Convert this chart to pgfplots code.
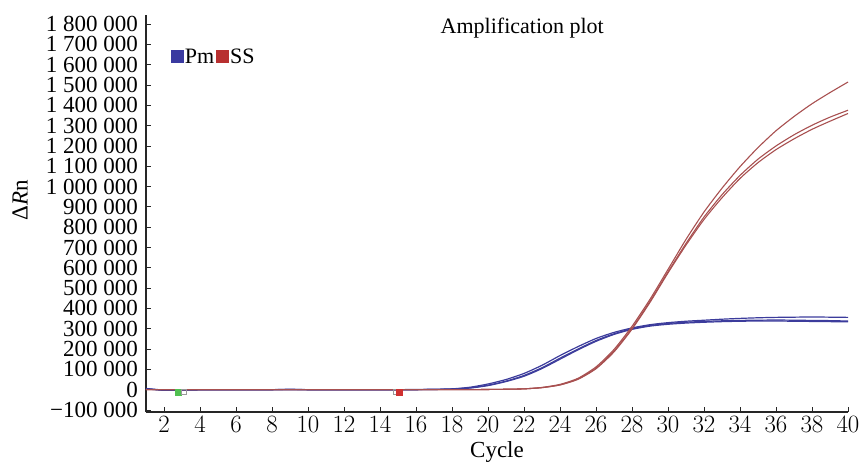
\documentclass[border=0pt]{standalone}
\usepackage{fontspec}
\setmainfont{Liberation Serif}
\usepackage{pgfplots}
\pgfplotsset{compat=1.18}
\definecolor{pmblue}{HTML}{3C3C9C}
\definecolor{ssred}{HTML}{A85050}
\definecolor{legblue}{HTML}{3A3AA0}
\definecolor{legred}{HTML}{B83030}
\definecolor{thgreen}{HTML}{50C050}
\definecolor{thred}{HTML}{D03030}
\begin{document}
\begin{tikzpicture}
\begin{axis}[
  name=ax,
  scale only axis, width=702pt, height=397pt,
  xmin=1, xmax=40, ymin=-110000, ymax=1845000,
  scaled y ticks=false,
  axis x line=bottom, axis y line=left,
  axis line style={-, line width=1.2pt, black!85},
  every tick/.style={black!85, line width=0.9pt},
  tick align=inside, major tick length=5pt,
  xtick={2,4,6,8,10,12,14,16,18,20,22,24,26,28,30,32,34,36,38,40},
  ytick={-100000,0,100000,200000,300000,400000,500000,600000,700000,800000,900000,1000000,1100000,1200000,1300000,1400000,1500000,1600000,1700000,1800000},
  yticklabels={−100 000,0,100 000,200 000,300 000,400 000,500 000,600 000,700 000,800 000,900 000,1 000 000,1 100 000,1 200 000,1 300 000,1 400 000,1 500 000,1 600 000,1 700 000,1 800 000},
  tick label style={font=\fontsize{23}{23}\selectfont},
  yticklabel style={inner xsep=3pt, xshift=-5pt},
  xticklabel style={inner ysep=4pt},
  xlabel={Cycle}, ylabel={Δ\textit{R}n},
  label style={font=\fontsize{23}{23}\selectfont},
  xlabel style={yshift=-2pt},
  ylabel style={at={(axis description cs:-0.1795,0.534)}, anchor=center},
  legend style={draw=none, fill=none, at={(rel axis cs:0.035,0.895)}, anchor=west,
    font=\fontsize{22}{22}\selectfont, legend columns=2,
    /tikz/every even column/.append style={column sep=0pt},
    inner sep=0pt, nodes={inner xsep=2pt}},
  legend cell align=left,
  clip=false,
]
\addlegendimage{only marks, mark=square*, mark size=6pt, color=legblue}
\addlegendentry{Pm}
\addlegendimage{only marks, mark=square*, mark size=6pt, color=legred}
\addlegendentry{SS}

% Pm (blue) curves
\addplot[pmblue, line width=1.2pt, smooth, tension=0.4] coordinates {
(1,6000)(2,-2000)(3,-1000)(4,0)(5,0)(6,0)(7,0)(8,0)(9,2000)(10,0)(11,0)(12,0)(13,0)(14,0)(15,0)(16,1000)(17,2000)(18,4000)(19,12000)(20,28000)(21,50000)(22,80000)(23,120000)(24,168000)(25,212000)(26,252000)(27,282000)(28,304000)(29,320000)(30,330000)(31,337000)(32,342000)(33,347000)(34,351000)(35,354000)(36,356000)(37,357000)(38,358000)(39,357000)(40,356000)};
\addplot[pmblue, line width=1.2pt, smooth, tension=0.4] coordinates {
(1,5000)(2,-3000)(3,-2000)(4,-1000)(5,0)(6,0)(7,0)(8,0)(9,1000)(10,0)(11,0)(12,0)(13,0)(14,0)(15,0)(16,0)(17,1000)(18,3000)(19,9000)(20,22000)(21,42000)(22,70000)(23,108000)(24,155000)(25,200000)(26,242000)(27,275000)(28,300000)(29,316000)(30,326000)(31,332000)(32,336000)(33,339000)(34,341000)(35,342000)(36,343000)(37,342000)(38,341000)(39,340000)(40,338000)};
\addplot[pmblue, line width=1.2pt, smooth, tension=0.4] coordinates {
(1,4000)(2,-3000)(3,-2000)(4,-1000)(5,0)(6,0)(7,0)(8,0)(9,0)(10,0)(11,0)(12,0)(13,0)(14,0)(15,0)(16,0)(17,1000)(18,3000)(19,8000)(20,20000)(21,40000)(22,66000)(23,104000)(24,150000)(25,196000)(26,238000)(27,272000)(28,297000)(29,313000)(30,322000)(31,328000)(32,332000)(33,335000)(34,337000)(35,338000)(36,338000)(37,337000)(38,336000)(39,335000)(40,334000)};

% SS (red) curves
\addplot[ssred, line width=1.1pt, smooth, tension=0.4] coordinates {
(1,0)(5,0)(10,0)(15,0)(18,0)(19,0)(20,1000)(21,2000)(22,4000)(23,11000)(24,26000)(25,56000)(26,112000)(27,198000)(28,312000)(29,445000)(30,592000)(31,740000)(32,875000)(33,992000)(34,1098000)(35,1192000)(36,1275000)(37,1345000)(38,1408000)(39,1463000)(40,1515000)};
\addplot[ssred, line width=1.1pt, smooth, tension=0.4] coordinates {
(1,0)(5,0)(10,0)(15,0)(18,0)(19,0)(20,1000)(21,2000)(22,4000)(23,10000)(24,24000)(25,53000)(26,106000)(27,190000)(28,302000)(29,435000)(30,580000)(31,720000)(32,850000)(33,960000)(34,1055000)(35,1135000)(36,1200000)(37,1255000)(38,1302000)(39,1342000)(40,1376000)};
\addplot[ssred, line width=1.1pt, smooth, tension=0.4] coordinates {
(1,0)(5,0)(10,0)(15,0)(18,0)(19,0)(20,1000)(21,2000)(22,4000)(23,10000)(24,23000)(25,51000)(26,103000)(27,186000)(28,298000)(29,430000)(30,575000)(31,712000)(32,838000)(33,945000)(34,1040000)(35,1118000)(36,1182000)(37,1235000)(38,1282000)(39,1322000)(40,1360000)};

% threshold markers
\addplot[only marks, mark=square*, mark size=3pt, color=thgreen] coordinates {(2.8,-14000)};
\addplot[only marks, mark=square, mark size=2.5pt, color=black!40] coordinates {(3.08,-12000)};
\addplot[only marks, mark=square, mark size=2.5pt, color=black!40] coordinates {(14.85,-12000)};
\addplot[only marks, mark=square*, mark size=3pt, color=thred] coordinates {(15.05,-14000)};

\node[font=\fontsize{22}{22}\selectfont] at (rel axis cs:0.536,0.967) {Amplification plot};
\end{axis}
\pgfresetboundingbox
\path[use as bounding box] ([xshift=-146pt,yshift=-52pt]ax.south west) rectangle ([xshift=15pt,yshift=15pt]ax.north east);
\end{tikzpicture}
\end{document}
